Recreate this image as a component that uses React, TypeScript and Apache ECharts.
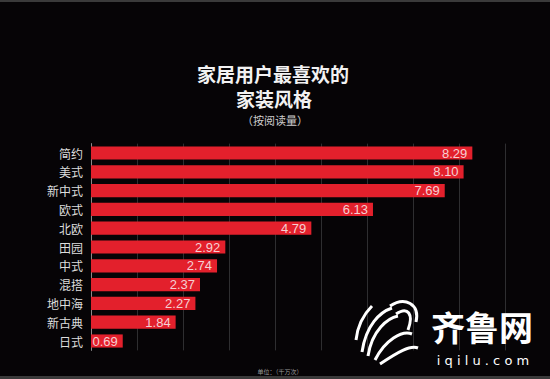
import React, { useEffect, useRef } from "react";
import * as echarts from "echarts";

const categories = ["简约", "美式", "新中式", "欧式", "北欧", "田园", "中式", "混搭", "地中海", "新古典", "日式"];
const values = [8.29, 8.1, 7.69, 6.13, 4.79, 2.92, 2.74, 2.37, 2.27, 1.84, 0.69];
const titleLines = ["家居用户最喜欢的", "家装风格", "（按阅读量）"];
const unitText = "单位：（千万次）";

export default function App() {
  const ref = useRef<HTMLDivElement>(null);
  useEffect(() => {
    const chart = echarts.init(ref.current!, null, { renderer: "svg" });
    const font = "'Noto Sans CJK SC', 'Noto Sans', sans-serif";
    const swirl: any[] = [];
    const strands = [
      [[362, 352], [366, 325], [380, 312], [392, 308]],
      [[368, 356], [372, 330], [388, 318], [398, 316]],
      [[375, 360], [385, 340], [402, 330], [412, 334]],
      [[380, 364], [398, 352], [410, 345], [418, 348]],
      [[356, 340], [358, 322], [366, 312], [372, 306]],
      [[390, 306], [405, 296], [420, 304], [416, 322]],
      [[396, 314], [408, 306], [414, 314], [408, 330]],
    ];
    strands.forEach((s) => {
      swirl.push({
        type: "bezierCurve",
        shape: { x1: s[0][0], y1: s[0][1], cpx1: s[1][0], cpy1: s[1][1], cpx2: s[2][0], cpy2: s[2][1], x2: s[3][0], y2: s[3][1] },
        style: { stroke: "#ffffff", lineWidth: 3, fill: null },
        z: 10,
      });
    });
    chart.setOption({
      animation: false,
      backgroundColor: "#060406",
      grid: { left: 91, right: 45, top: 143.6, bottom: 28.6, containLabel: false },
      xAxis: {
        type: "value",
        min: 0,
        max: 9,
        interval: 1,
        axisLabel: { show: false },
        axisLine: { show: false },
        axisTick: { show: false },
        splitLine: { show: true, lineStyle: { color: "#2e2e30", width: 1 } },
      },
      yAxis: {
        type: "category",
        inverse: true,
        data: categories,
        axisLine: { show: true, lineStyle: { color: "#8a8a8a", width: 1 } },
        axisTick: { show: false },
        axisLabel: { color: "#dddddd", fontSize: 12, margin: 8, fontFamily: font },
      },
      series: [
        {
          type: "bar",
          data: values,
          barCategoryGap: "30%",
          itemStyle: { color: "#e3202c" },
          label: {
            show: true,
            position: "insideRight",
            distance: 5,
            color: "#f6cfd2",
            fontSize: 13,
            fontFamily: "'Liberation Sans', Arial, sans-serif",
            formatter: (p: any) => p.value.toFixed(2),
          },
        },
      ],
      graphic: [
        { type: "rect", shape: { x: 0, y: 0, width: 550, height: 2 }, style: { fill: "#3a3a3a" } },
        { type: "rect", shape: { x: 0, y: 376, width: 550, height: 3 }, style: { fill: "#3a3a3a" } },
        {
          type: "text", x: 273, y: 73,
          style: { text: titleLines[0], fill: "#f2f2f2", font: `bold 19px ${font}`, lineHeight: 19, align: "center", verticalAlign: "middle" },
        },
        {
          type: "text", x: 274, y: 98,
          style: { text: titleLines[1], fill: "#f2f2f2", font: `bold 19px ${font}`, lineHeight: 19, align: "center", verticalAlign: "middle" },
        },
        {
          type: "text", x: 275, y: 120,
          style: { text: titleLines[2], fill: "#cccccc", font: `11px ${font}`, lineHeight: 11, align: "center", verticalAlign: "middle" },
        },
        {
          type: "text", x: 280, y: 371,
          style: { text: unitText, fill: "#9a9a9a", font: `6px ${font}`, align: "center", verticalAlign: "middle" },
        },
        {
          type: "text", x: 482, y: 326, z: 10,
          style: { text: "齐鲁网", fill: "#ffffff", font: `bold 34px ${font}`, lineHeight: 34, align: "center", verticalAlign: "middle" },
        },
        {
          type: "text", x: 483, y: 360, z: 10,
          style: { text: "i q i l u . c o m", fill: "#ffffff", font: `13px 'DejaVu Sans', sans-serif`, lineHeight: 13, align: "center", verticalAlign: "middle" },
        },
        ...swirl,
      ],
    });
    return () => chart.dispose();
  }, []);
  return <div ref={ref} style={{ position: "fixed", left: 0, top: 0, width: 550, height: 379 }} />;
}
